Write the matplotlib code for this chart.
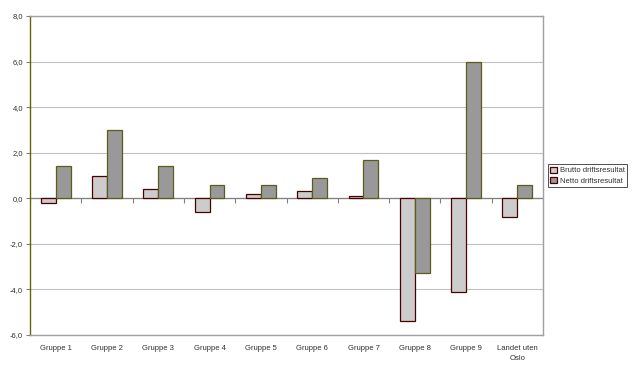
import numpy as np
import matplotlib
matplotlib.use('Agg')
import matplotlib.pyplot as plt

categories = ['Gruppe 1', 'Gruppe 2', 'Gruppe 3', 'Gruppe 4', 'Gruppe 5',
              'Gruppe 6', 'Gruppe 7', 'Gruppe 8', 'Gruppe 9', 'Landet uten\nOslo']
brutto = [-0.2, 1.0, 0.4, -0.6, 0.2, 0.3, 0.1, -5.4, -4.1, -0.8]
netto = [1.4, 3.0, 1.4, 0.6, 0.6, 0.9, 1.7, -3.3, 6.0, 0.6]
yticks = [-6, -4, -2, 0, 2, 4, 6, 8]

plt.rcParams['font.family'] = ['Liberation Sans', 'DejaVu Sans']
plt.rcParams['text.color'] = '#303030'

fig = plt.figure(figsize=(6.34, 3.73), dpi=100)
ax = fig.add_axes([0.0473, 0.1019, 0.8092, 0.8551])

x = np.arange(len(categories))
w = 0.29
ax.bar(x - w / 2, brutto, w, color='#cccccc', edgecolor='#4a0000', linewidth=0.9,
       label='Brutto driftsresultat', zorder=3)
ax.bar(x + w / 2, netto, w, color='#999999', edgecolor='#5c5c1a', linewidth=0.9,
       label='Netto driftsresultat', zorder=3)

ax.set_xlim(-0.5, len(categories) - 0.5)
ax.set_ylim(-6, 8)
ax.set_yticks(yticks)
ax.set_yticklabels(['{:.1f}'.format(v).replace('.', ',') for v in yticks])
ax.yaxis.grid(True, color='#c0c0c0', linewidth=0.8, zorder=0)
ax.set_axisbelow(True)

ax.set_xticks(x)
ax.set_xticklabels(categories, fontsize=5.5, linespacing=1.6)
ax.tick_params(axis='x', length=0, pad=7, labelcolor='#303030')
ax.tick_params(axis='y', length=3, labelsize=5.5, pad=2, color='#808080',
               labelcolor='#303030')

# zero line with tick marks between groups
ax.axhline(0, color='#808080', linewidth=0.9, zorder=2)
bounds = np.arange(len(categories) + 1) - 0.5
ax.vlines(bounds, -0.2, 0, color='#808080', linewidth=0.8, zorder=2)

ax.spines['left'].set_color('#666600')
ax.spines['left'].set_linewidth(1.0)
for s in ['top', 'right', 'bottom']:
    ax.spines[s].set_color('#a0a0a0')
    ax.spines[s].set_linewidth(1.0)

leg = ax.legend(loc='upper left', bbox_to_anchor=(1.01, 0.535), fontsize=5.5,
                frameon=True, fancybox=False, handlelength=0.9, handleheight=0.9,
                handletextpad=0.3, borderpad=0.3, labelspacing=0.35, borderaxespad=0)
leg.get_frame().set_edgecolor('#000000')
leg.get_frame().set_linewidth(0.6)
for h in leg.legend_handles:
    h.set_edgecolor('#4a0000')

fig.savefig('out.png', dpi=100)
